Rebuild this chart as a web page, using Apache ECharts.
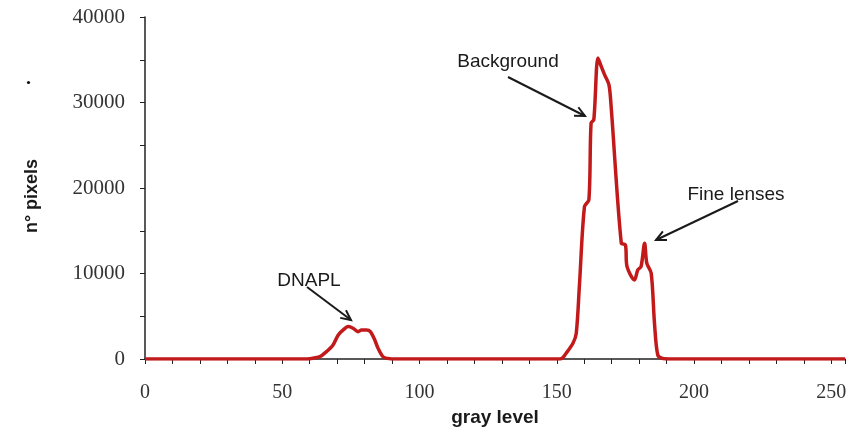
<!DOCTYPE html>
<html><head><meta charset="utf-8">
<script src="https://cdn.jsdelivr.net/npm/echarts@6/dist/echarts.min.js"></script>
<style>html,body{margin:0;padding:0;background:#fff}#c{width:850px;height:432px}</style>
</head><body><div id="c"></div>
<script>
// gray level (x) and number of pixels (y)
const grayLevel = [0, 58, 60, 63.7, 66.1, 68.5, 70.4, 72.2, 74.0, 75.8, 77.6, 78.9, 80.7, 82.1, 83.7, 84.9, 86.7, 89.2, 93,
  148, 151.6, 153.4, 155.9, 157.1, 158.3, 160.1, 161.7, 162.5, 163.5, 165.0, 166.2, 167.4, 169.0, 169.8, 173.5, 175.0,
  175.6, 178.3, 179.5, 180.7, 182.0, 182.8, 184.4, 185.6, 186.8, 188.6, 192, 255];
const pixelCount = [0, 0, 30, 270, 860, 1640, 2810, 3400, 3790, 3600, 3200, 3400, 3400, 3200, 2220, 1250, 270, 40, 0,
  0, 40, 670, 1840, 3000, 8860, 17840, 18620, 27600, 27990, 35210, 34230, 33260, 32090, 29550, 13550, 13350,
  10810, 9250, 10420, 10810, 13550, 11200, 10030, 4180, 470, 60, 0, 0];
const xTicks = [0, 50, 100, 150, 200, 250];
const yTicks = [0, 10000, 20000, 30000, 40000];
const annotations = [
  {text: 'Background', tx: 508, ty: 62, from: [508, 77], to: [585, 116]},
  {text: 'DNAPL', tx: 309, ty: 281, from: [307, 287], to: [351, 320]},
  {text: 'Fine lenses', tx: 736, ty: 195, from: [738, 201], to: [656, 240]}
];

const chart = echarts.init(document.getElementById('c'), null, {renderer: 'canvas'});
const seriesData = grayLevel.map((g, i) => [g, pixelCount[i]]);

const graphics = [];
annotations.forEach(a => {
  graphics.push({type: 'text', x: a.tx, y: a.ty, style: {text: a.text, font: '19px "Liberation Sans", Arial, sans-serif', fill: '#1a1a1a', textAlign: 'center', textVerticalAlign: 'middle'}});
  graphics.push({type: 'line', shape: {x1: a.from[0], y1: a.from[1], x2: a.to[0], y2: a.to[1]}, style: {stroke: '#1a1a1a', lineWidth: 2}});
  const ang = Math.atan2(a.to[1] - a.from[1], a.to[0] - a.from[0]);
  const L = 11, spread = 0.45;
  const p1 = [a.to[0] - L * Math.cos(ang - spread), a.to[1] - L * Math.sin(ang - spread)];
  const p2 = [a.to[0] - L * Math.cos(ang + spread), a.to[1] - L * Math.sin(ang + spread)];
  graphics.push({type: 'polyline', shape: {points: [p1, a.to, p2]}, style: {stroke: '#1a1a1a', lineWidth: 2, fill: null}});
});
graphics.push({type: 'circle', shape: {cx: 28.5, cy: 82.5, r: 1.6}, style: {fill: '#111'}});
graphics.push({type: 'text', x: 32, y: 196, rotation: Math.PI / 2,
  style: {text: 'n° pixels', font: 'bold 18px "Liberation Sans", Arial, sans-serif', fill: '#1a1a1a', textAlign: 'center', textVerticalAlign: 'middle'}});

chart.setOption({
  animation: false,
  backgroundColor: '#fff',
  grid: {left: 145, right: 5, top: 17, bottom: 73, containLabel: false},
  xAxis: {
    type: 'value', min: 0, max: 255, interval: 50,
    name: 'gray level', nameLocation: 'middle', nameGap: 47,
    nameTextStyle: {fontFamily: '"Liberation Sans", Arial, sans-serif', fontWeight: 'bold', fontSize: 19, color: '#1a1a1a'},
    axisLine: {show: true, onZero: false, lineStyle: {color: '#222', width: 1.5}},
    axisTick: {show: true, length: 5, lineStyle: {color: '#222'}},
    minorTick: {show: true, splitNumber: 5, length: 5, lineStyle: {color: '#222'}},
    splitLine: {show: false},
    axisLabel: {margin: 24, fontFamily: '"Liberation Serif", "Times New Roman", serif', fontSize: 20, color: '#333',
      formatter: v => xTicks.includes(v) ? String(v) : ''}
  },
  yAxis: {
    type: 'value', min: 0, max: 40000, interval: 10000,
    axisLine: {show: true, lineStyle: {color: '#222', width: 1.5}},
    axisTick: {show: true, length: 5, lineStyle: {color: '#222'}},
    minorTick: {show: true, splitNumber: 2, length: 5, lineStyle: {color: '#222'}},
    splitLine: {show: false},
    axisLabel: {margin: 20, fontFamily: '"Liberation Serif", "Times New Roman", serif', fontSize: 21, color: '#333',
      formatter: v => yTicks.includes(v) ? String(v) : ''}
  },
  series: [{
    type: 'line', data: seriesData, showSymbol: false, smooth: 0.3,
    lineStyle: {color: '#c21a1a', width: 3.5}, z: 3
  }],
  graphic: graphics
});
</script></body></html>
